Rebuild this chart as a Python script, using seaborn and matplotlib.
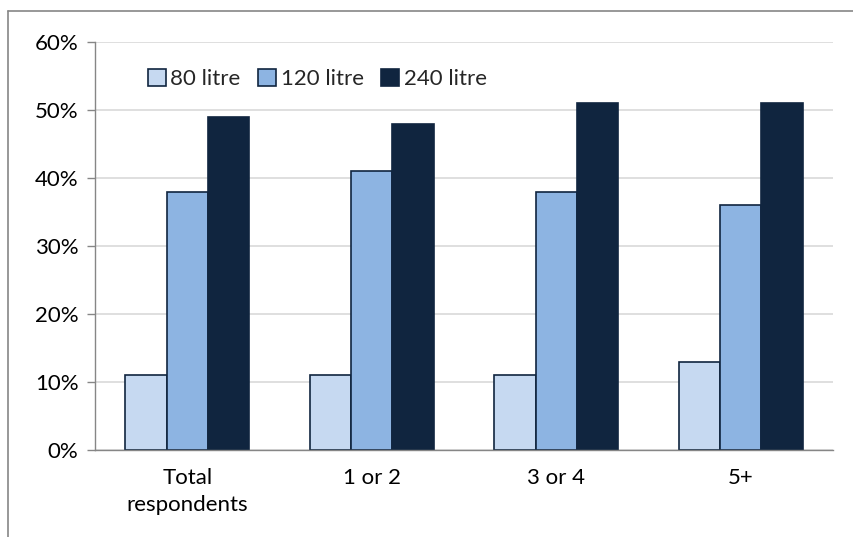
import matplotlib
matplotlib.use("Agg")
import matplotlib.pyplot as plt
from matplotlib.lines import Line2D
from matplotlib.patches import Patch
import seaborn as sns
import pandas as pd

# Household size groups and bin size preference shares (%)
categories = ["Total\nrespondents", "1 or 2", "3 or 4", "5+"]
bin_sizes = ["80 litre", "120 litre", "240 litre"]
share_80 = [11, 11, 11, 13]
share_120 = [38, 41, 38, 36]
share_240 = [49, 48, 51, 51]
y_ticks = [0, 10, 20, 30, 40, 50, 60]
y_tick_labels = ["0%", "10%", "20%", "30%", "40%", "50%", "60%"]

colors = ["#C6D9F1", "#8DB4E2", "#10253F"]
edge = "#10253F"
axis_grey = "#868686"
FS = 16

rows = []
for size, vals in zip(bin_sizes, [share_80, share_120, share_240]):
    for cat, v in zip(categories, vals):
        rows.append({"group": cat, "size": size, "share": v})
df = pd.DataFrame(rows)

sns.set_theme(style="white")
plt.rcParams["font.family"] = ["Lato", "DejaVu Sans"]

fig = plt.figure(figsize=(8.54, 5.37), dpi=100)
ax = fig.add_axes([95 / 854, 87 / 537, 738 / 854, 408 / 537])

sns.barplot(data=df, x="group", y="share", hue="size", order=categories,
            hue_order=bin_sizes, palette=colors, width=0.67, gap=0,
            edgecolor=edge, linewidth=1.2, saturation=1, legend=False, ax=ax,
            zorder=3)

ax.set_xlim(-0.5, len(categories) - 0.5)
ax.set_ylim(0, 60)
ax.set_yticks(y_ticks)
ax.set_yticklabels(y_tick_labels, fontsize=FS, color="#000000")
ax.set_xlabel("")
ax.set_ylabel("")
for lbl in ax.get_xticklabels():
    lbl.set_linespacing(1.45)
ax.tick_params(axis="x", which="major", length=0, labelsize=FS, pad=13,
               labelcolor="#000000")
ax.set_xticks([i - 0.5 for i in range(len(categories) + 1)], minor=True)
ax.tick_params(axis="x", which="minor", length=6, width=1, color=axis_grey,
               direction="out")
ax.tick_params(axis="y", length=6, width=1, color=axis_grey, direction="out",
               pad=6, left=True)

ax.yaxis.grid(True, color="#D9D9D9", linewidth=1.2, zorder=0)
ax.set_axisbelow(True)
for side in ["top", "right"]:
    ax.spines[side].set_visible(False)
for side in ["left", "bottom"]:
    ax.spines[side].set_color(axis_grey)
    ax.spines[side].set_linewidth(1)
    ax.spines[side].set_zorder(4)

handles = [Patch(facecolor=c, edgecolor=edge, linewidth=1.2) for c in colors]
ax.legend(handles, bin_sizes, loc="upper left", bbox_to_anchor=(0.06, 0.955),
          ncol=3, frameon=False, fontsize=FS, handlelength=0.8,
          handleheight=0.8, handletextpad=0.2, columnspacing=0.8,
          borderaxespad=0)

# Outer chart border (top and left edges)
fig.add_artist(Line2D([8 / 854, 1.0], [1 - 11 / 537, 1 - 11 / 537],
                      color=axis_grey, linewidth=1.2, transform=fig.transFigure))
fig.add_artist(Line2D([8 / 854, 8 / 854], [0.0, 1 - 11 / 537],
                      color=axis_grey, linewidth=1.2, transform=fig.transFigure))

fig.savefig("out.png", dpi=100, facecolor="white")
